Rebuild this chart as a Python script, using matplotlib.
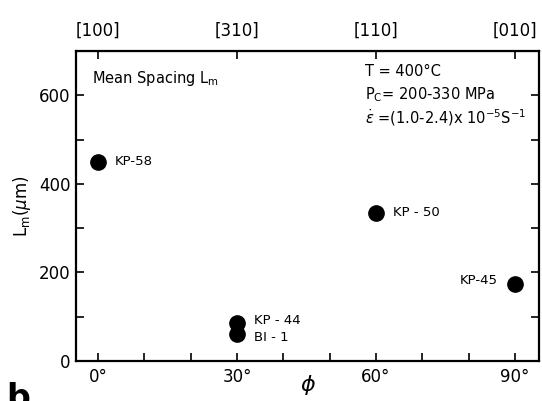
import matplotlib
matplotlib.use("Agg")
import matplotlib.pyplot as plt
from matplotlib.ticker import MultipleLocator, FixedLocator

# Data
samples = ["KP-58", "KP - 44", "BI - 1", "KP - 50", "KP-45"]
phi_deg = [0, 30, 30, 60, 90]
spacing_um = [450, 85, 60, 335, 175]

x_tick_vals = [0, 30, 60, 90]
x_tick_labels = ["0°", "30°", "60°", "90°"]
top_labels = ["[100]", "[310]", "[110]", "[010]"]
y_tick_vals = [0, 200, 400, 600]

plt.rcParams['font.family'] = ['DejaVu Sans']

fig = plt.figure(figsize=(5.42, 4.01), dpi=100)
ax = fig.add_axes([76/542, 40/401, 463/542, 310/401])

ax.plot(phi_deg, spacing_um, 'o', color='black', markersize=11, linestyle='none')

ax.set_xlim(-4.75, 95.2)
ax.set_ylim(0, 700)

ax.xaxis.set_major_locator(FixedLocator(x_tick_vals))
ax.set_xticklabels(x_tick_labels, fontsize=12)
ax.xaxis.set_minor_locator(MultipleLocator(10))
ax.yaxis.set_major_locator(FixedLocator(y_tick_vals))
ax.set_yticklabels([str(v) for v in y_tick_vals], fontsize=12)
ax.yaxis.set_minor_locator(MultipleLocator(100))

ax.tick_params(axis='both', which='both', direction='in', width=1.2)
ax.tick_params(axis='x', which='both', bottom=True, top=False, length=6, pad=5)
ax.tick_params(axis='y', which='both', left=True, right=True, length=6, pad=4)
for s in ax.spines.values():
    s.set_linewidth(1.6)

# top axis
axt = ax.secondary_xaxis('top')
axt.set_xticks(x_tick_vals)
axt.set_xticklabels(top_labels, fontsize=12)
axt.tick_params(direction='in', length=6, width=1.2, pad=8)

# point labels
offsets = {
    "KP-58": (12, 0, 'left'),
    "KP - 44": (12, 2, 'left'),
    "BI - 1": (12, -2, 'left'),
    "KP - 50": (12, 0, 'left'),
    "KP-45": (-12, 2, 'right'),
}
for name, x, y in zip(samples, phi_deg, spacing_um):
    dx, dy, ha = offsets[name]
    ax.annotate(name, (x, y), xytext=(dx, dy), textcoords='offset points',
                ha=ha, va='center', fontsize=9.5)

ax.text(0.035, 0.91, r"Mean Spacing L$_\mathregular{m}$", transform=ax.transAxes,
        fontsize=10.5, ha='left', va='center')
ax.text(0.625, 0.935, "T = 400°C", transform=ax.transAxes, fontsize=10.5, ha='left', va='center')
ax.text(0.625, 0.86, r"P$_\mathregular{C}$= 200-330 MPa", transform=ax.transAxes,
        fontsize=10.5, ha='left', va='center')
ax.text(0.625, 0.785, r"$\dot{\epsilon}$ =(1.0-2.4)x 10$^{\mathregular{-5}}$S$^{\mathregular{-1}}$",
        transform=ax.transAxes, fontsize=10.5, ha='left', va='center')

ax.set_ylabel(r"L$_\mathregular{m}$($\mu$m)", fontsize=12, labelpad=4)
fig.text(308/542, (401-385)/401, r"$\phi$", fontsize=16, ha='center', va='center')

fig.text(0.012, 0.048, "b", fontsize=24, fontweight='bold', ha='left', va='top')

fig.savefig("out.png", dpi=100)
